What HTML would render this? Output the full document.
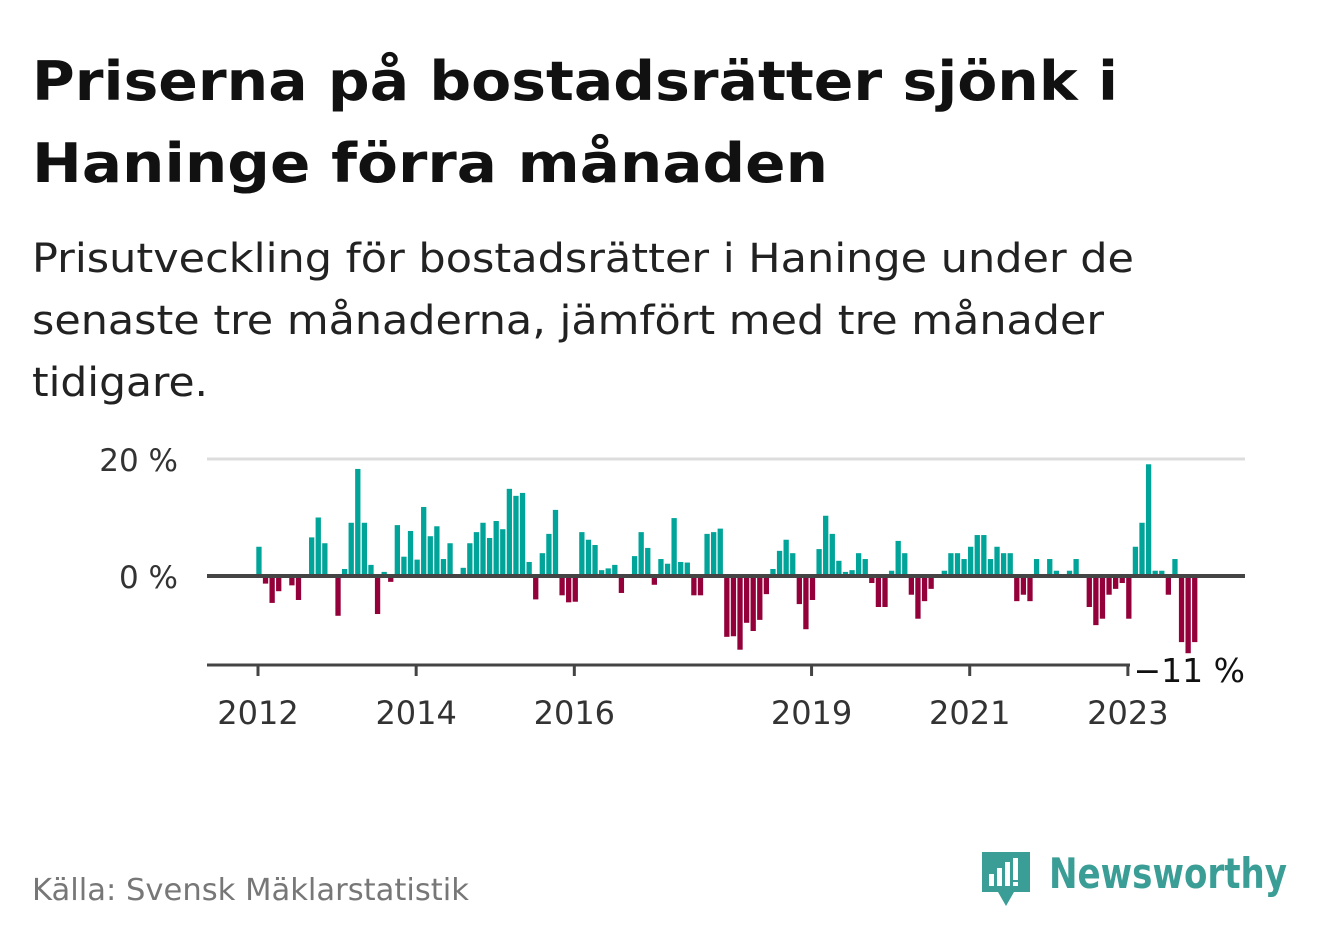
<!DOCTYPE html>
<html><head><meta charset="utf-8">
<style>
html,body{margin:0;padding:0;background:#fff;}
svg{display:block;font-family:"DejaVu Sans","Liberation Sans",sans-serif;}
</style></head>
<body>
<svg id="chart" width="1322" height="939" viewBox="0 0 1322 939" xmlns="http://www.w3.org/2000/svg">
<text x="32" y="100" font-size="54" font-weight="bold" fill="#111" textLength="1086" lengthAdjust="spacingAndGlyphs">Priserna på bostadsrätter sjönk i</text>
<text x="32" y="182" font-size="54" font-weight="bold" fill="#111" textLength="796" lengthAdjust="spacingAndGlyphs">Haninge förra månaden</text>
<text x="32" y="272" font-size="40" fill="#222" textLength="1102" lengthAdjust="spacingAndGlyphs">Prisutveckling för bostadsrätter i Haninge under de</text>
<text x="32" y="334" font-size="40" fill="#222" textLength="1072" lengthAdjust="spacingAndGlyphs">senaste tre månaderna, jämfört med tre månader</text>
<text x="32" y="396" font-size="40" fill="#222" textLength="176" lengthAdjust="spacingAndGlyphs">tidigare.</text>
<g id="plot"></g>
<text x="32" y="900" font-size="30" fill="#777" textLength="437" lengthAdjust="spacingAndGlyphs">Källa: Svensk Mäklarstatistik</text>
<g>
  <path d="M982 852 h48 v40 h-16 l-8 14 l-8 -14 h-16 z" fill="#3a9d96"/>
  <rect x="989" y="874" width="5" height="12" fill="#fff"/>
  <rect x="997" y="868" width="5" height="18" fill="#fff"/>
  <rect x="1005" y="862" width="5" height="24" fill="#fff"/>
  <rect x="1013" y="858" width="5" height="22" fill="#fff"/>
  <rect x="1013" y="882" width="5" height="4" fill="#fff"/>
  <text x="1049" y="888" font-size="42" font-weight="bold" fill="#3a9d96" textLength="238" lengthAdjust="spacingAndGlyphs">Newsworthy</text>
</g>
</svg>
<script>
const values = [5.0,-1.3,-4.6,-2.6,0.3,-1.6,-4.1,0,6.6,10,5.6,0,
-6.8,1.2,9.1,18.3,9.1,1.9,-6.5,0.7,-1.0,8.7,3.3,7.7,
2.8,11.8,6.8,8.5,2.9,5.6,0,1.4,5.6,7.5,9.1,6.5,
9.4,8.0,14.9,13.7,14.2,2.4,-4.0,3.9,7.2,11.3,-3.3,-4.5,
-4.4,7.5,6.2,5.3,1.0,1.3,1.9,-2.9,0,3.4,7.5,4.8,
-1.5,2.9,2.1,9.9,2.4,2.3,-3.3,-3.3,7.2,7.5,8.1,-10.4,
-10.3,-12.6,-8.0,-9.4,-7.5,-3.1,1.2,4.3,6.2,3.9,-4.8,-9.1,
-4.1,4.6,10.3,7.2,2.6,0.7,1.0,3.9,2.9,-1.2,-5.3,-5.3,
0.9,6.0,3.9,-3.2,-7.3,-4.3,-2.2,0,0.9,3.9,3.9,2.9,
5.0,7.0,7.0,2.9,5.0,3.9,3.9,-4.3,-3.2,-4.3,2.9,0,
2.9,0.9,0,0.9,2.9,0,-5.3,-8.4,-7.3,-3.2,-2.2,-1.2,
-7.3,5.0,9.1,19.1,0.9,0.9,-3.2,2.9,-11.3,-13.2,-11.3];
const yearLabels = ["2012","2014","2016","2019","2021","2023"];
const yearIndex = [0,24,48,84,108,132];
const yTicks = [0,20];
const yTickLabels = ["0 %","20 %"];
const lastLabel = "−11 %";

const NS="http://www.w3.org/2000/svg";
const plot=document.getElementById('plot');
const x0=258, step=6.59, zeroY=576, pxPer=5.85;
const xs=i=>x0+step*i;
const ys=v=>zeroY-v*pxPer;
function mk(tag,attrs){const e=document.createElementNS(NS,tag);for(const k in attrs)e.setAttribute(k,attrs[k]);plot.appendChild(e);return e;}

yTicks.forEach((t,k)=>{
  if(t!==0){const g=mk('line',{x1:207,x2:1245,y1:ys(t),y2:ys(t),stroke:'#ddd','stroke-width':3});
  
  }
  const l=mk('text',{x:178,y:ys(t)+12,'font-size':31,fill:'#333','text-anchor':'end'});
  
  
  l.textContent=yTickLabels[k];
});

values.forEach((v,i)=>{
  const y=ys(v);
  const r=mk('rect',{x:xs(i)-1.7,y:Math.min(y,zeroY),width:5.3,height:Math.abs(zeroY-y),fill:v>=0?'#00a499':'#93003a'});
  
  
});

const z=mk('line',{x1:207,x2:1245,y1:zeroY,y2:zeroY,stroke:'#444','stroke-width':4});


const ax=mk('line',{x1:207,x2:1130,y1:665,y2:665,stroke:'#444','stroke-width':3});



yearIndex.forEach((yi,k)=>{
  const tk=mk('line',{x1:xs(yi),x2:xs(yi),y1:665,y2:676,stroke:'#444','stroke-width':3});
  
  
  const t=mk('text',{x:xs(yi),y:724,'font-size':32,fill:'#333','text-anchor':'middle'});
  
  
  t.textContent=yearLabels[k];
});

const ll=mk('text',{x:1245,y:682,'font-size':33,fill:'#111','text-anchor':'end'});


ll.textContent=lastLabel;
</script>
</body></html>
